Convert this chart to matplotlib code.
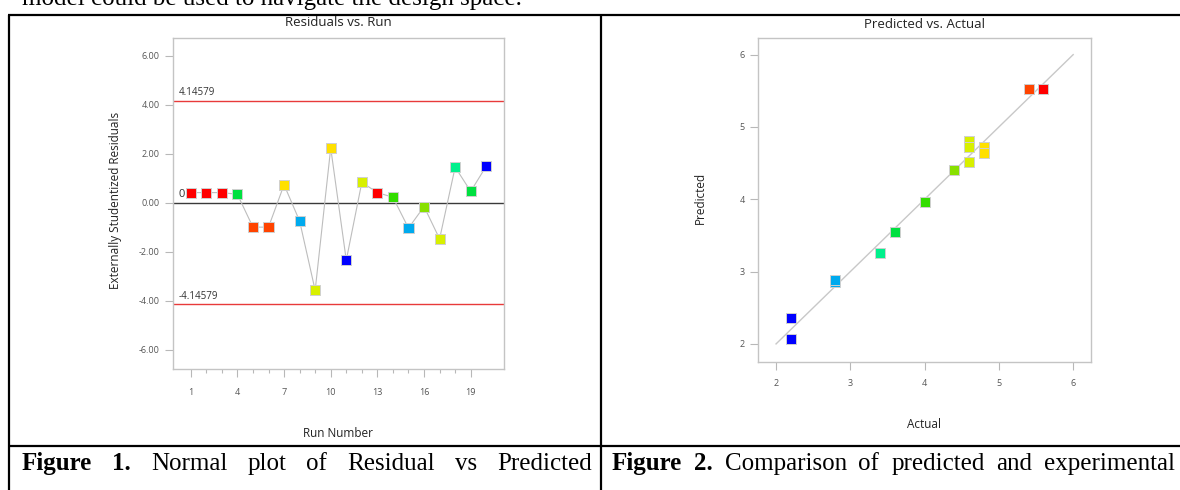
import matplotlib
matplotlib.use("Agg")
import matplotlib.pyplot as plt
from matplotlib.lines import Line2D
from matplotlib.ticker import FixedLocator

# data
runs = list(range(1, 21))
residuals = [0.42, 0.42, 0.42, 0.35, -0.99, -0.99, 0.74, -0.74, -3.57, 2.24,
             -2.34, 0.84, 0.42, 0.23, -1.03, -0.15, -1.47, 1.46, 0.47, 1.50]
actual = [5.6, 5.6, 5.6, 3.6, 5.4, 5.4, 4.8, 2.8, 4.6, 4.8,
          2.2, 4.6, 5.6, 4.0, 2.8, 4.4, 4.6, 3.4, 3.6, 2.2]
predicted = [5.53, 5.53, 5.53, 3.55, 5.53, 5.53, 4.72, 2.86, 4.80, 4.64,
             2.36, 4.52, 5.53, 3.96, 2.88, 4.40, 4.72, 3.26, 3.55, 2.07]
limit = 4.14579
x_ticks = [1, 4, 7, 10, 13, 16, 19]
y_ticks_left = [-6, -4, -2, 0, 2, 4, 6]
y_ticks_right = [2, 3, 4, 5, 6]

# colour of a point by its actual response (blue low -> red high)
level_colors = {2.2: '#0000ff', 2.8: '#00aaee', 3.4: '#00f08c', 3.6: '#00e040',
                4.0: '#33dd00', 4.4: '#88e000', 4.6: '#d8f000', 4.8: '#ffe000',
                5.4: '#ff4400', 5.6: '#ff0000'}
colors = [level_colors[a] for a in actual]

W, H = 1180, 490
fig = plt.figure(figsize=(W / 100, H / 100), dpi=100)
plt.rcParams['font.family'] = ['Open Sans', 'DejaVu Sans']


def fx(x):
    return x / W


def fy(y):
    return 1 - y / H


def line(x0, y0, x1, y1, lw=1.6):
    fig.add_artist(Line2D([fx(x0), fx(x1)], [fy(y0), fy(y1)], color='black',
                          lw=lw, transform=fig.transFigure, solid_capstyle='butt'))


def style(ax):
    for s in ax.spines.values():
        s.set_color('#c4c4c4')
        s.set_linewidth(1.0)
    ax.tick_params(which='both', color='#b8b8b8', labelcolor='#555555',
                   labelsize=6.5, width=0.8)
    ax.tick_params(which='major', length=6)
    ax.tick_params(which='minor', length=3)


# left panel: residuals vs run
ax1 = fig.add_axes([fx(173), fy(369), fx(504) - fx(173), fy(38) - fy(369)])
style(ax1)
ax1.axhline(limit, color='#e83a3a', lw=1.0)
ax1.axhline(-limit, color='#e83a3a', lw=1.0)
ax1.axhline(0, color='#3a3a3a', lw=1.0)
ax1.plot(runs, residuals, color='#bdbdbd', lw=0.8, zorder=2)
ax1.scatter(runs, residuals, c=colors, marker='s', s=52, edgecolors='#d0d0d0',
            linewidths=0.7, zorder=3)
ax1.set_xlim(-0.14, 21.14)
ax1.set_ylim(-6.78, 6.73)
ax1.xaxis.set_major_locator(FixedLocator(x_ticks))
ax1.xaxis.set_minor_locator(FixedLocator(runs[:19]))
ax1.set_xticklabels([str(t) for t in x_ticks])
ax1.set_yticks(y_ticks_left)
ax1.set_yticklabels(['%.2f' % t for t in y_ticks_left])
ax1.tick_params(axis='x', pad=8)
ax1.text(0.2, limit + 0.12, '4.14579', fontsize=7, color='#333333', va='bottom')
ax1.text(0.2, -limit + 0.12, '-4.14579', fontsize=7, color='#333333', va='bottom')
ax1.text(0.2, 0.12, '0', fontsize=8, color='#333333', va='bottom')

fig.text(fx(338), fy(22), 'Residuals vs. Run', fontsize=9.5, color='#222222',
         ha='center', va='center')
fig.text(fx(115), fy(200), 'Externally Studentized Residuals', fontsize=8.5,
         color='#222222', ha='center', va='center', rotation=90)
fig.text(fx(338), fy(433), 'Run Number', fontsize=8.5, color='#222222',
         ha='center', va='center')

# right panel: predicted vs actual
ax2 = fig.add_axes([fx(758), fy(362), fx(1091) - fx(758), fy(38) - fy(362)])
style(ax2)
ax2.plot([2, 6], [2, 6], color='#c8c8c8', lw=1.0, zorder=2)
ax2.scatter(actual, predicted, c=colors, marker='s', s=52, edgecolors='#d0d0d0',
            linewidths=0.7, zorder=3)
ax2.set_xlim(1.757, 6.24)
ax2.set_ylim(1.75, 6.23)
ax2.set_xticks(y_ticks_right)
ax2.set_yticks(y_ticks_right)
ax2.tick_params(axis='x', pad=6)

fig.text(fx(924), fy(24), 'Predicted vs. Actual', fontsize=9.5, color='#222222',
         ha='center', va='center')
fig.text(fx(700), fy(198), 'Predicted', fontsize=8.5, color='#222222',
         ha='center', va='center', rotation=90)
fig.text(fx(924), fy(425), 'Actual', fontsize=8.5, color='#222222',
         ha='center', va='center')

# page: text line cut at the top, table borders, captions
fig.text(fx(22), fy(5), 'model could be used to navigate the design space.',
         family='Liberation Serif', fontsize=18, va='baseline')
line(8, 15, W, 15)
line(9, 15, 9, H)
line(601, 15, 601, H)
line(9, 446, W, 446)

renderer = fig.canvas.get_renderer()


def justified(words, left, right, base):
    items = []
    for w, bold in words:
        t = fig.text(fx(left), fy(base), w, family='Liberation Serif', fontsize=18,
                     fontweight='bold' if bold else 'normal', va='baseline')
        items.append(t)
    widths = [t.get_window_extent(renderer).width for t in items]
    gap = (right - left - sum(widths)) / (len(items) - 1)
    x = left
    for t, w in zip(items, widths):
        t.set_x(fx(x))
        x += w + gap


cap1 = [('Figure', True), ('1.', True), ('Normal', False), ('plot', False),
        ('of', False), ('Residual', False), ('vs', False), ('Predicted', False)]
cap2 = [('Figure', True), ('2.', True), ('Comparison', False), ('of', False),
        ('predicted', False), ('and', False), ('experimental', False)]
justified(cap1, 22, 592, 470)
justified(cap2, 612, 1175, 470)

fig.savefig('out.png', dpi=100)
